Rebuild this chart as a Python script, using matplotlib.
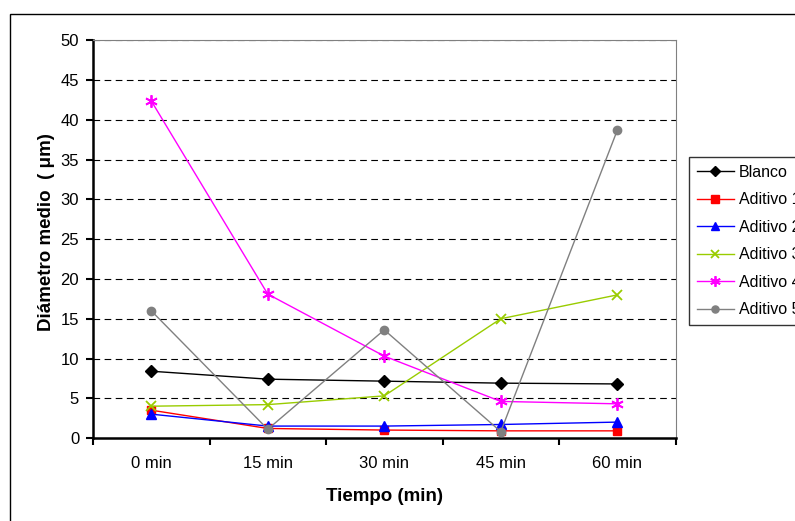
import matplotlib.pyplot as plt
from matplotlib.patches import Rectangle

plt.rcParams["font.family"] = ["Liberation Sans", "DejaVu Sans"]

tiempos = ["0 min", "15 min", "30 min", "45 min", "60 min"]

blanco = [8.4, 7.4, 7.15, 6.9, 6.8]
aditivo_1 = [3.5, 1.2, 1.0, 0.9, 0.9]
aditivo_2 = [3.0, 1.5, 1.5, 1.7, 2.0]
aditivo_3 = [4.0, 4.2, 5.3, 15.0, 18.0]
aditivo_4 = [42.4, 18.1, 10.3, 4.6, 4.3]
aditivo_5 = [16.0, 1.1, 13.6, 0.8, 38.7]

series = [
    ("Blanco", blanco, "black", "D", 6),
    ("Aditivo 1", aditivo_1, "#ff0000", "s", 6),
    ("Aditivo 2", aditivo_2, "#0000ff", "^", 7),
    ("Aditivo 3", aditivo_3, "#99cc00", "x", 7),
    ("Aditivo 4", aditivo_4, "#ff00ff", (6, 2, 0), 9),
    ("Aditivo 5", aditivo_5, "#808080", "o", 6),
]

fig = plt.figure(figsize=(7.95, 5.21), dpi=100)
ax = fig.add_axes([0.117, 0.1593, 0.7327, 0.763])

# outer frame of the chart area, runs off the right and bottom edges
fig.patches.append(Rectangle((9.5 / 795, -0.2), 1.2, 1.2 - 13.5 / 521,
                             transform=fig.transFigure, fill=False,
                             edgecolor="black", linewidth=1.0))

x = list(range(len(tiempos)))
for name, vals, color, marker, ms in series:
    ax.plot(x, vals, color=color, marker=marker, markersize=ms, linewidth=1.0,
            markeredgewidth=1.3 if marker in ("x", (6, 2, 0)) else 1.0,
            markeredgecolor=color, markerfacecolor=color, label=name,
            zorder=3)

ax.set_ylim(0, 50)
ax.set_xlim(-0.5, 4.5)
ax.set_yticks(range(0, 51, 5))
for y in range(5, 51, 5):
    ax.axhline(y, color="black", linestyle=(0, (6, 4)), linewidth=0.8, zorder=1)

ax.set_xticks([i - 0.5 for i in range(len(tiempos) + 1)])
ax.set_xticklabels([])
ax.set_xticks(x, minor=True)
ax.set_xticklabels(tiempos, minor=True)
ax.tick_params(axis="x", which="major", direction="out", length=5, width=1.5)
ax.tick_params(axis="x", which="minor", length=0, pad=13, labelsize=12)
ax.tick_params(axis="y", direction="out", length=5, width=1.5, pad=5, labelsize=12)

for side in ("left", "bottom"):
    ax.spines[side].set_linewidth(1.8)
    ax.spines[side].set_color("black")
for side in ("top", "right"):
    ax.spines[side].set_linewidth(0.8)
    ax.spines[side].set_color("#808080")

ax.set_xlabel("Tiempo (min)", fontsize=13.5, fontweight="bold")
ax.xaxis.set_label_coords(0.5, -0.125)
ax.set_ylabel("Diámetro medio  ( μm)", fontsize=13.5, fontweight="bold")
ax.yaxis.set_label_coords(-0.065, 0.518)

leg = fig.legend(loc="upper left", bbox_to_anchor=(689 / 795, 1 - 157 / 521),
                 fontsize=11.5, frameon=True, fancybox=False, edgecolor="black",
                 handlelength=2.3, handletextpad=0.3, labelspacing=0.78,
                 borderpad=0.5, borderaxespad=0, markerscale=0.85)
leg.get_frame().set_linewidth(1.0)

fig.savefig("out.png", dpi=100)
